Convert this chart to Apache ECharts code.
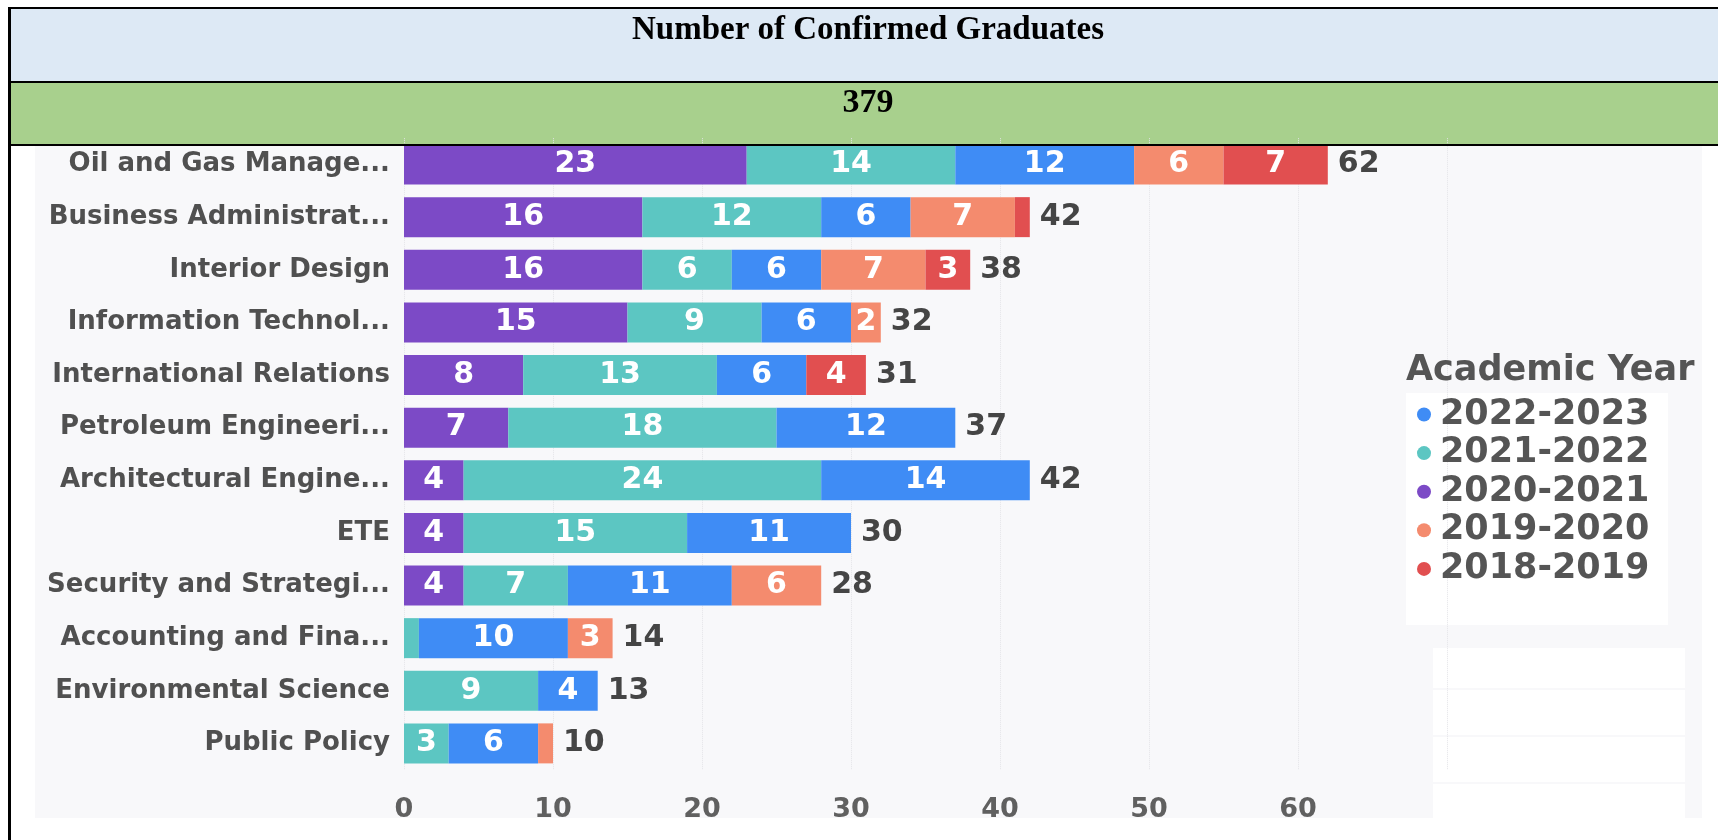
<!DOCTYPE html>
<html>
<head>
<meta charset="utf-8">
<script src="https://cdn.jsdelivr.net/npm/echarts@6/dist/echarts.min.js"></script>
<style>
  html, body { margin: 0; padding: 0; background: #ffffff; }
  #chart { width: 1718px; height: 840px; }
</style>
</head>
<body>
<div id="chart"></div>
<script>
// ---- data ----
const tableTitle = 'Number of Confirmed Graduates';
const tableTotal = '379';
const legendTitle = 'Academic Year';

const categories = [
  'Oil and Gas Manage...',
  'Business Administrat...',
  'Interior Design',
  'Information Technol...',
  'International Relations',
  'Petroleum Engineeri...',
  'Architectural Engine...',
  'ETE',
  'Security and Strategi...',
  'Accounting and Fina...',
  'Environmental Science',
  'Public Policy'
];

const y2020_2021 = [23, 16, 16, 15, 8, 7, 4, 4, 4, 0, 0, 0];
const y2021_2022 = [14, 12, 6, 9, 13, 18, 24, 15, 7, 1, 9, 3];
const y2022_2023 = [12, 6, 6, 6, 6, 12, 14, 11, 11, 10, 4, 6];
const y2019_2020 = [6, 7, 7, 2, 0, 0, 0, 0, 6, 3, 0, 1];
const y2018_2019 = [7, 1, 3, 0, 4, 0, 0, 0, 0, 0, 0, 0];

const xTicks = [0, 10, 20, 30, 40, 50, 60];

const legendOrder = ['2022-2023', '2021-2022', '2020-2021', '2019-2020', '2018-2019'];

// ---- build ----
const colors = {
  '2020-2021': '#7c4ac6',
  '2021-2022': '#5cc6c2',
  '2022-2023': '#3f8cf5',
  '2019-2020': '#f48b6e',
  '2018-2019': '#e14f50'
};
const stackSeries = [
  ['2020-2021', y2020_2021],
  ['2021-2022', y2021_2022],
  ['2022-2023', y2022_2023],
  ['2019-2020', y2019_2020],
  ['2018-2019', y2018_2019]
];
const totals = categories.map((c, i) => stackSeries.reduce((s, p) => s + p[1][i], 0));

const FONT = 'DejaVu Sans';
const BAR_W = 40;

const series = stackSeries.map(([name, vals]) => ({
  name: name,
  type: 'bar',
  stack: 'all',
  data: vals,
  barWidth: BAR_W,
  itemStyle: { color: colors[name] },
  label: {
    show: true,
    position: 'inside',
    color: '#ffffff',
    fontFamily: FONT,
    fontWeight: 'bold',
    fontSize: 30,
    formatter: p => (p.value >= 2 ? String(p.value) : '')
  },
  emphasis: { disabled: true }
}));
series.push({
  name: 'Total',
  type: 'bar',
  stack: 'all',
  data: categories.map(() => 0),
  barWidth: BAR_W,
  itemStyle: { color: 'rgba(0,0,0,0)' },
  label: {
    show: true,
    position: 'right',
    distance: 10,
    color: '#454545',
    fontFamily: FONT,
    fontWeight: 'bold',
    fontSize: 30,
    formatter: p => String(totals[p.dataIndex])
  },
  emphasis: { disabled: true }
});

const chart = echarts.init(document.getElementById('chart'), null, { renderer: 'canvas' });

const option = {
  animation: false,
  backgroundColor: '#ffffff',
  title: {
    text: legendTitle,
    left: 1406,
    top: 353,
    padding: 0,
    textStyle: { fontFamily: FONT, fontWeight: 'bold', fontSize: 35, color: '#555555', lineHeight: 36 }
  },
  legend: {
    data: legendOrder,
    orient: 'vertical',
    left: 1417,
    top: 397,
    padding: 0,
    icon: 'circle',
    itemWidth: 14,
    itemHeight: 14,
    itemGap: 3.6,
    selectedMode: false,
    textStyle: { fontFamily: FONT, fontWeight: 'bold', fontSize: 35, lineHeight: 32, color: '#555555', padding: [0, 0, 0, 4] }
  },
  grid: {
    left: 404,
    width: 1043,
    top: 138.2,
    height: 631.5,
    containLabel: false
  },
  xAxis: {
    type: 'value',
    min: 0,
    max: 70,
    interval: 10,
    axisLine: { show: false },
    axisTick: { show: false },
    axisLabel: {
      showMaxLabel: false,
      margin: 27,
      fontFamily: FONT,
      fontWeight: 'bold',
      fontSize: 27,
      color: '#606060',
      formatter: v => (xTicks.indexOf(v) >= 0 ? String(v) : '')
    },
    splitLine: { show: true, lineStyle: { color: '#e4e4e8', type: 'dotted', width: 1 } }
  },
  yAxis: {
    type: 'category',
    data: categories,
    inverse: true,
    axisLine: { show: false },
    axisTick: { show: false },
    axisLabel: {
      margin: 14,
      fontFamily: FONT,
      fontWeight: 'bold',
      fontSize: 26,
      color: '#505050'
    }
  },
  graphic: [
    // chart picture background
    { type: 'rect', z: -10, shape: { x: 35, y: 146, width: 1667, height: 672 }, style: { fill: '#f8f8fa' } },
    { type: 'rect', z: -9, shape: { x: 1406, y: 393, width: 262, height: 232 }, style: { fill: '#ffffff' } },
    { type: 'rect', z: -9, shape: { x: 1433, y: 648, width: 252, height: 40 }, style: { fill: '#ffffff' } },
    { type: 'rect', z: -9, shape: { x: 1433, y: 690, width: 252, height: 45 }, style: { fill: '#ffffff' } },
    { type: 'rect', z: -9, shape: { x: 1433, y: 737, width: 252, height: 45 }, style: { fill: '#ffffff' } },
    { type: 'rect', z: -9, shape: { x: 1433, y: 784, width: 252, height: 34 }, style: { fill: '#ffffff' } },
    // table header rows
    { type: 'rect', z: -10, shape: { x: 10, y: 9, width: 1708, height: 73 }, style: { fill: '#dde9f5' } },
    { type: 'rect', z: -10, shape: { x: 10, y: 83, width: 1708, height: 61 }, style: { fill: '#a8d08d' } },
    // table borders
    { type: 'rect', z: 50, shape: { x: 8, y: 7, width: 1710, height: 2 }, style: { fill: '#000000' } },
    { type: 'rect', z: 50, shape: { x: 8, y: 81, width: 1710, height: 2 }, style: { fill: '#000000' } },
    { type: 'rect', z: 50, shape: { x: 8, y: 144, width: 1710, height: 2 }, style: { fill: '#000000' } },
    { type: 'rect', z: 50, shape: { x: 8, y: 7, width: 3, height: 833 }, style: { fill: '#000000' } },
    // header texts
    {
      type: 'text', z: 60,
      style: {
        text: tableTitle, x: 868, y: 30, textAlign: 'center', textVerticalAlign: 'middle',
        font: 'bold 33px "Liberation Serif"', fill: '#000000'
      }
    },
    {
      type: 'text', z: 60,
      style: {
        text: tableTotal, x: 868, y: 103, textAlign: 'center', textVerticalAlign: 'middle',
        font: 'bold 34px "Liberation Serif"', fill: '#000000'
      }
    }
  ],
  series: series
};

chart.setOption(option);
</script>
</body>
</html>
